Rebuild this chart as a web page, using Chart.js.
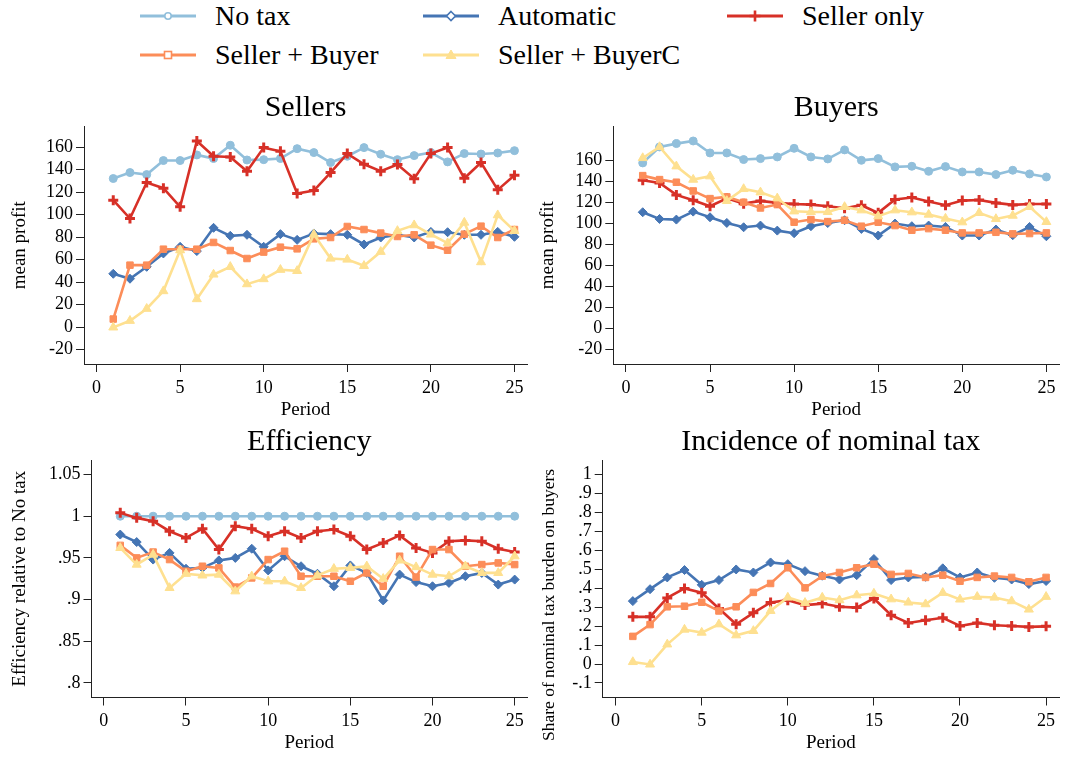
<!DOCTYPE html>
<html>
<head>
<meta charset="utf-8">
<script src="https://cdn.jsdelivr.net/npm/chart.js@4.4.1/dist/chart.umd.min.js"></script>
<style>
html,body{margin:0;padding:0;background:#fff;}
body{width:1067px;height:759px;position:relative;overflow:hidden;font-family:"Liberation Serif","Times New Roman",serif;}
canvas{position:absolute;}
.legtext{position:absolute;font-size:28px;line-height:32px;color:#000;white-space:nowrap;}
.legsvg{position:absolute;}
</style>
</head>
<body>
<div id="legend"></div>
<canvas id="pSellers" width="535" height="339"></canvas>
<canvas id="pBuyers" width="534" height="339"></canvas>
<canvas id="pEfficiency" width="535" height="338"></canvas>
<canvas id="pIncidence" width="534" height="338"></canvas>
<script>
// ---------- data ----------
const periods = [1,2,3,4,5,6,7,8,9,10,11,12,13,14,15,16,17,18,19,20,21,22,23,24,25];
const seriesNames = ["No tax","Automatic","Seller only","Seller + Buyer","Seller + BuyerC"];

const sellersNoTax       = [132.2,137.5,135.7,148.2,148.2,153.2,150.0,161.8,148.7,149.0,150.0,158.8,155.3,146.4,152.0,159.7,153.8,149.0,152.6,155.3,147.0,154.4,154.0,154.9,157.0];
const sellersAutomatic   = [47.4,43.0,53.6,65.5,71.4,67.6,88.3,81.2,82.1,71.4,82.7,77.6,83.3,82.7,82.1,73.5,79.7,82.1,79.7,84.7,84.4,82.1,82.1,84.7,80.3];
const sellersSellerOnly  = [112.9,96.6,128.6,123.6,107.0,165.6,152.0,151.4,138.7,159.7,156.4,118.8,121.5,137.5,154.4,144.9,138.7,144.6,132.1,154.4,159.7,132.4,146.4,122.1,135.1];
const sellersSellerBuyer = [7.1,55.1,55.1,69.3,69.3,69.3,75.3,68.1,61.0,66.7,71.1,69.6,78.5,79.7,89.5,86.8,83.6,80.6,82.1,72.9,68.4,82.7,89.8,79.7,86.8];
const sellersSellerBuyerC= [-0.3,5.6,16.3,32.0,68.4,24.9,46.8,53.6,38.2,42.7,51.0,50.0,82.4,61.0,60.1,54.5,67.0,85.6,90.7,82.4,74.7,93.0,57.8,99.6,85.6];

const buyersNoTax        = [157.8,173.0,176.2,178.7,167.3,167.3,161.0,161.9,163.5,171.7,163.5,161.6,170.2,160.3,161.9,154.0,154.6,149.8,154.3,149.2,149.2,146.7,150.8,147.3,144.4];
const buyersAutomatic    = [110.8,104.4,103.8,111.4,106.0,100.6,96.5,98.1,93.3,90.8,97.5,100.5,103.2,94.9,88.6,100.0,97.5,98.1,96.8,88.6,88.6,94.3,88.9,96.8,87.9];
const buyersSellerOnly   = [141.3,138.7,127.3,122.2,116.5,124.1,119.0,121.6,119.7,118.7,118.1,116.5,114.6,117.5,110.2,122.9,124.8,121.0,117.5,121.9,122.5,119.7,117.8,118.7,118.7];
const buyersSellerBuyer  = [145.7,141.9,139.4,131.1,123.8,125.4,120.3,114.9,118.1,101.3,103.8,101.9,103.2,97.5,101.3,98.1,93.7,95.2,93.7,91.1,91.1,91.7,90.2,90.5,91.1];
const buyersSellerBuyerC = [162.5,173.0,154.6,141.9,145.1,121.6,133.0,129.8,124.1,111.7,111.1,111.1,115.9,112.7,107.0,112.7,110.8,108.6,104.8,101.3,110.2,104.4,107.6,115.9,101.6];

const efficiencyNoTax       = [1,1,1,1,1,1,1,1,1,1,1,1,1,1,1,1,1,1,1,1,1,1,1,1,1];
const efficiencyAutomatic   = [0.978,0.969,0.948,0.956,0.937,0.938,0.947,0.950,0.961,0.935,0.952,0.940,0.931,0.916,0.941,0.932,0.899,0.930,0.921,0.916,0.920,0.928,0.932,0.918,0.924];
const efficiencySellerOnly  = [1.004,0.998,0.994,0.982,0.974,0.985,0.960,0.988,0.985,0.976,0.982,0.974,0.982,0.984,0.976,0.960,0.968,0.977,0.962,0.956,0.970,0.971,0.970,0.961,0.957];
const efficiencySellerBuyer = [0.965,0.950,0.957,0.948,0.934,0.940,0.938,0.915,0.926,0.948,0.958,0.928,0.928,0.928,0.922,0.932,0.916,0.952,0.927,0.960,0.960,0.940,0.942,0.944,0.942];
const efficiencySellerBuyerC= [0.962,0.942,0.954,0.914,0.931,0.929,0.930,0.910,0.928,0.922,0.922,0.914,0.929,0.937,0.938,0.940,0.925,0.947,0.939,0.930,0.928,0.940,0.932,0.932,0.952];

const incidenceAutomatic    = [0.332,0.395,0.457,0.496,0.418,0.443,0.499,0.483,0.536,0.527,0.490,0.466,0.446,0.469,0.554,0.443,0.457,0.460,0.505,0.457,0.483,0.455,0.446,0.422,0.438];
const incidenceSellerOnly   = [0.249,0.249,0.349,0.399,0.376,0.293,0.210,0.270,0.325,0.337,0.311,0.319,0.302,0.298,0.346,0.258,0.217,0.231,0.244,0.201,0.217,0.205,0.201,0.196,0.199];
const incidenceSellerBuyer  = [0.146,0.208,0.302,0.305,0.326,0.280,0.302,0.378,0.425,0.508,0.402,0.464,0.483,0.508,0.527,0.473,0.478,0.457,0.469,0.437,0.457,0.464,0.457,0.434,0.457];
const incidenceSellerBuyerC = [0.011,-0.002,0.104,0.182,0.166,0.210,0.152,0.175,0.281,0.351,0.323,0.351,0.337,0.363,0.372,0.342,0.325,0.316,0.376,0.341,0.355,0.351,0.332,0.288,0.355];

const xTicks = [0,5,10,15,20,25];
const profitTicks  = [-20,0,20,40,60,80,100,120,140,160];
const profitLabels = ["-20","0","20","40","60","80","100","120","140","160"];
const efficiencyTicks  = [0.8,0.85,0.9,0.95,1,1.05];
const efficiencyLabels = [".8",".85",".9",".95","1","1.05"];
const incidenceTicks  = [-0.1,0,0.1,0.2,0.3,0.4,0.5,0.6,0.7,0.8,0.9,1];
const incidenceLabels = ["-.1","0",".1",".2",".3",".4",".5",".6",".7",".8",".9","1"];

// ---------- styles ----------
const FONT = "'Liberation Serif','Times New Roman',serif";
const colors = ["#91bfdb","#4575b4","#d73027","#fc8d59","#fee090"];
const pStyles = ["circle","rectRot","cross","rect","triangle"];
const pRadius = [4,4.5,5,4.6,5.2];
const pBorder = [1,1,3,1,1];

function ds(idx, values){
  return {
    label: seriesNames[idx],
    data: periods.map((p,i)=>({x:p, y:values[i]})),
    borderColor: colors[idx], backgroundColor: colors[idx],
    pointBackgroundColor: colors[idx], pointBorderColor: colors[idx],
    pointStyle: pStyles[idx], pointRadius: pRadius[idx], pointBorderWidth: pBorder[idx],
    borderWidth: 2.6, tension: 0, fill: false, order: 5-idx
  };
}

function makePanel(id, geo, title, yTitle, yTitleSize, yTitlePad, yTicks, yLabels, yMin, yMax, datasets){
  const cv = document.getElementById(id);
  cv.style.left = geo.left+'px'; cv.style.top = geo.top+'px';
  new Chart(cv, {
    type:'line',
    data:{datasets},
    options:{
      responsive:false, animation:false, devicePixelRatio:1,
      layout:{padding:{left:0, top:0, right:geo.padRight, bottom:geo.padBottom}},
      plugins:{
        legend:{display:false}, tooltip:{enabled:false},
        title:{display:true, fullSize:false, text:title, color:'#000', font:{family:FONT, size:30, weight:'normal', lineHeight:1.2}, padding:{top:geo.tTop, bottom:geo.tBot}}
      },
      scales:{
        x:{
          type:'linear', min:-0.75, max:25.75,
          afterBuildTicks:s=>{s.ticks = xTicks.map(v=>({value:v}));},
          afterFit:s=>{s.height = 57;},
          ticks:{color:'#000', font:{family:FONT, size:18}, padding:5, maxRotation:0, autoSkip:false, callback:v=>String(v)},
          grid:{display:true, drawOnChartArea:false, drawTicks:true, tickLength:8, color:'#222', lineWidth:1},
          border:{display:true, color:'#222', width:1},
          title:{display:true, text:'Period', color:'#000', font:{family:FONT, size:19, lineHeight:1.2}, padding:0}
        },
        y:{
          type:'linear', min:yMin, max:yMax,
          afterBuildTicks:s=>{s.ticks = yTicks.map(v=>({value:v}));},
          afterFit:s=>{s.width = geo.yWidth;},
          ticks:{color:'#000', font:{family:FONT, size:18}, padding:3, autoSkip:false, callback:v=>yLabels[yTicks.indexOf(v)]},
          grid:{display:true, drawOnChartArea:false, drawTicks:true, tickLength:8, color:'#222', lineWidth:1},
          border:{display:true, color:'#222', width:1},
          title:{display:true, text:yTitle, color:'#000', font:{family:FONT, size:yTitleSize, lineHeight:1.2}, padding:{top:yTitlePad, bottom:0}}
        }
      }
    }
  });
}

// title box height = 36 (30px * 1.2); chart top = tTop + 36 + tBot
makePanel('pSellers', {left:0, top:82, padRight:3, padBottom:0, tTop:8, tBot:0.5, yWidth:84},
  'Sellers', 'mean profit', 19, 8.6, profitTicks, profitLabels, -32.9, 178.5,
  [ds(0,sellersNoTax), ds(1,sellersAutomatic), ds(2,sellersSellerOnly), ds(3,sellersSellerBuyer), ds(4,sellersSellerBuyerC)]);

makePanel('pBuyers', {left:533, top:82, padRight:6.6, padBottom:0, tTop:8, tBot:0.5, yWidth:80.3},
  'Buyers', 'mean profit', 19, 3.6, profitTicks, profitLabels, -33.8, 192.5,
  [ds(0,buyersNoTax), ds(1,buyersAutomatic), ds(2,buyersSellerOnly), ds(3,buyersSellerBuyer), ds(4,buyersSellerBuyerC)]);

makePanel('pEfficiency', {left:0, top:421, padRight:3, padBottom:4.5, tTop:3, tBot:0, yWidth:91.5},
  'Efficiency', 'Efficiency relative to No tax', 19, 8.6, efficiencyTicks, efficiencyLabels, 0.7826, 1.0674,
  [ds(0,efficiencyNoTax), ds(1,efficiencyAutomatic), ds(2,efficiencySellerOnly), ds(3,efficiencySellerBuyer), ds(4,efficiencySellerBuyerC)]);

makePanel('pIncidence', {left:533, top:421, padRight:6.4, padBottom:4.5, tTop:3, tBot:0, yWidth:69.7},
  'Incidence of nominal tax', 'Share of nominal tax burden on buyers            ', 17.5, 5.5, incidenceTicks, incidenceLabels, -0.1765, 1.0765,
  [ds(1,incidenceAutomatic), ds(2,incidenceSellerOnly), ds(3,incidenceSellerBuyer), ds(4,incidenceSellerBuyerC)]);

// ---------- shared legend ----------
const legCols = [140,423,727];
const legRows = [16,55];
const legend = document.getElementById('legend');
function markerSvg(idx){
  const c = colors[idx];
  let m = '';
  if (idx===0) m = `<circle cx="28" cy="10" r="3.2" fill="#fff" stroke="${c}" stroke-width="1.6"/>`;
  if (idx===1) m = `<polygon points="28,5.5 32.5,10 28,14.5 23.5,10" fill="#fff" stroke="${c}" stroke-width="1.6"/>`;
  if (idx===2) m = `<path d="M28 4.5 V15.5 M22.5 10 H33.5" stroke="${c}" stroke-width="2.6"/>`;
  if (idx===3) m = `<rect x="24.5" y="6.5" width="7" height="7" fill="#fff" stroke="${c}" stroke-width="1.6"/>`;
  if (idx===4) m = `<polygon points="28,5 33,13.5 23,13.5" fill="${c}" stroke="${c}" stroke-width="1"/>`;
  return `<svg width="56" height="20" xmlns="http://www.w3.org/2000/svg"><line x1="0" y1="10" x2="56" y2="10" stroke="${c}" stroke-width="3"/>${m}</svg>`;
}
seriesNames.forEach((name, i)=>{
  const col = i % 3, row = Math.floor(i/3);
  const x = legCols[col], y = legRows[row];
  const s = document.createElement('div');
  s.className = 'legsvg'; s.style.left = x+'px'; s.style.top = (y-10)+'px';
  s.innerHTML = markerSvg(i);
  legend.appendChild(s);
  const t = document.createElement('div');
  t.className = 'legtext'; t.style.left = (x+75)+'px'; t.style.top = (y-16)+'px';
  t.textContent = name;
  legend.appendChild(t);
});
</script>
</body>
</html>
